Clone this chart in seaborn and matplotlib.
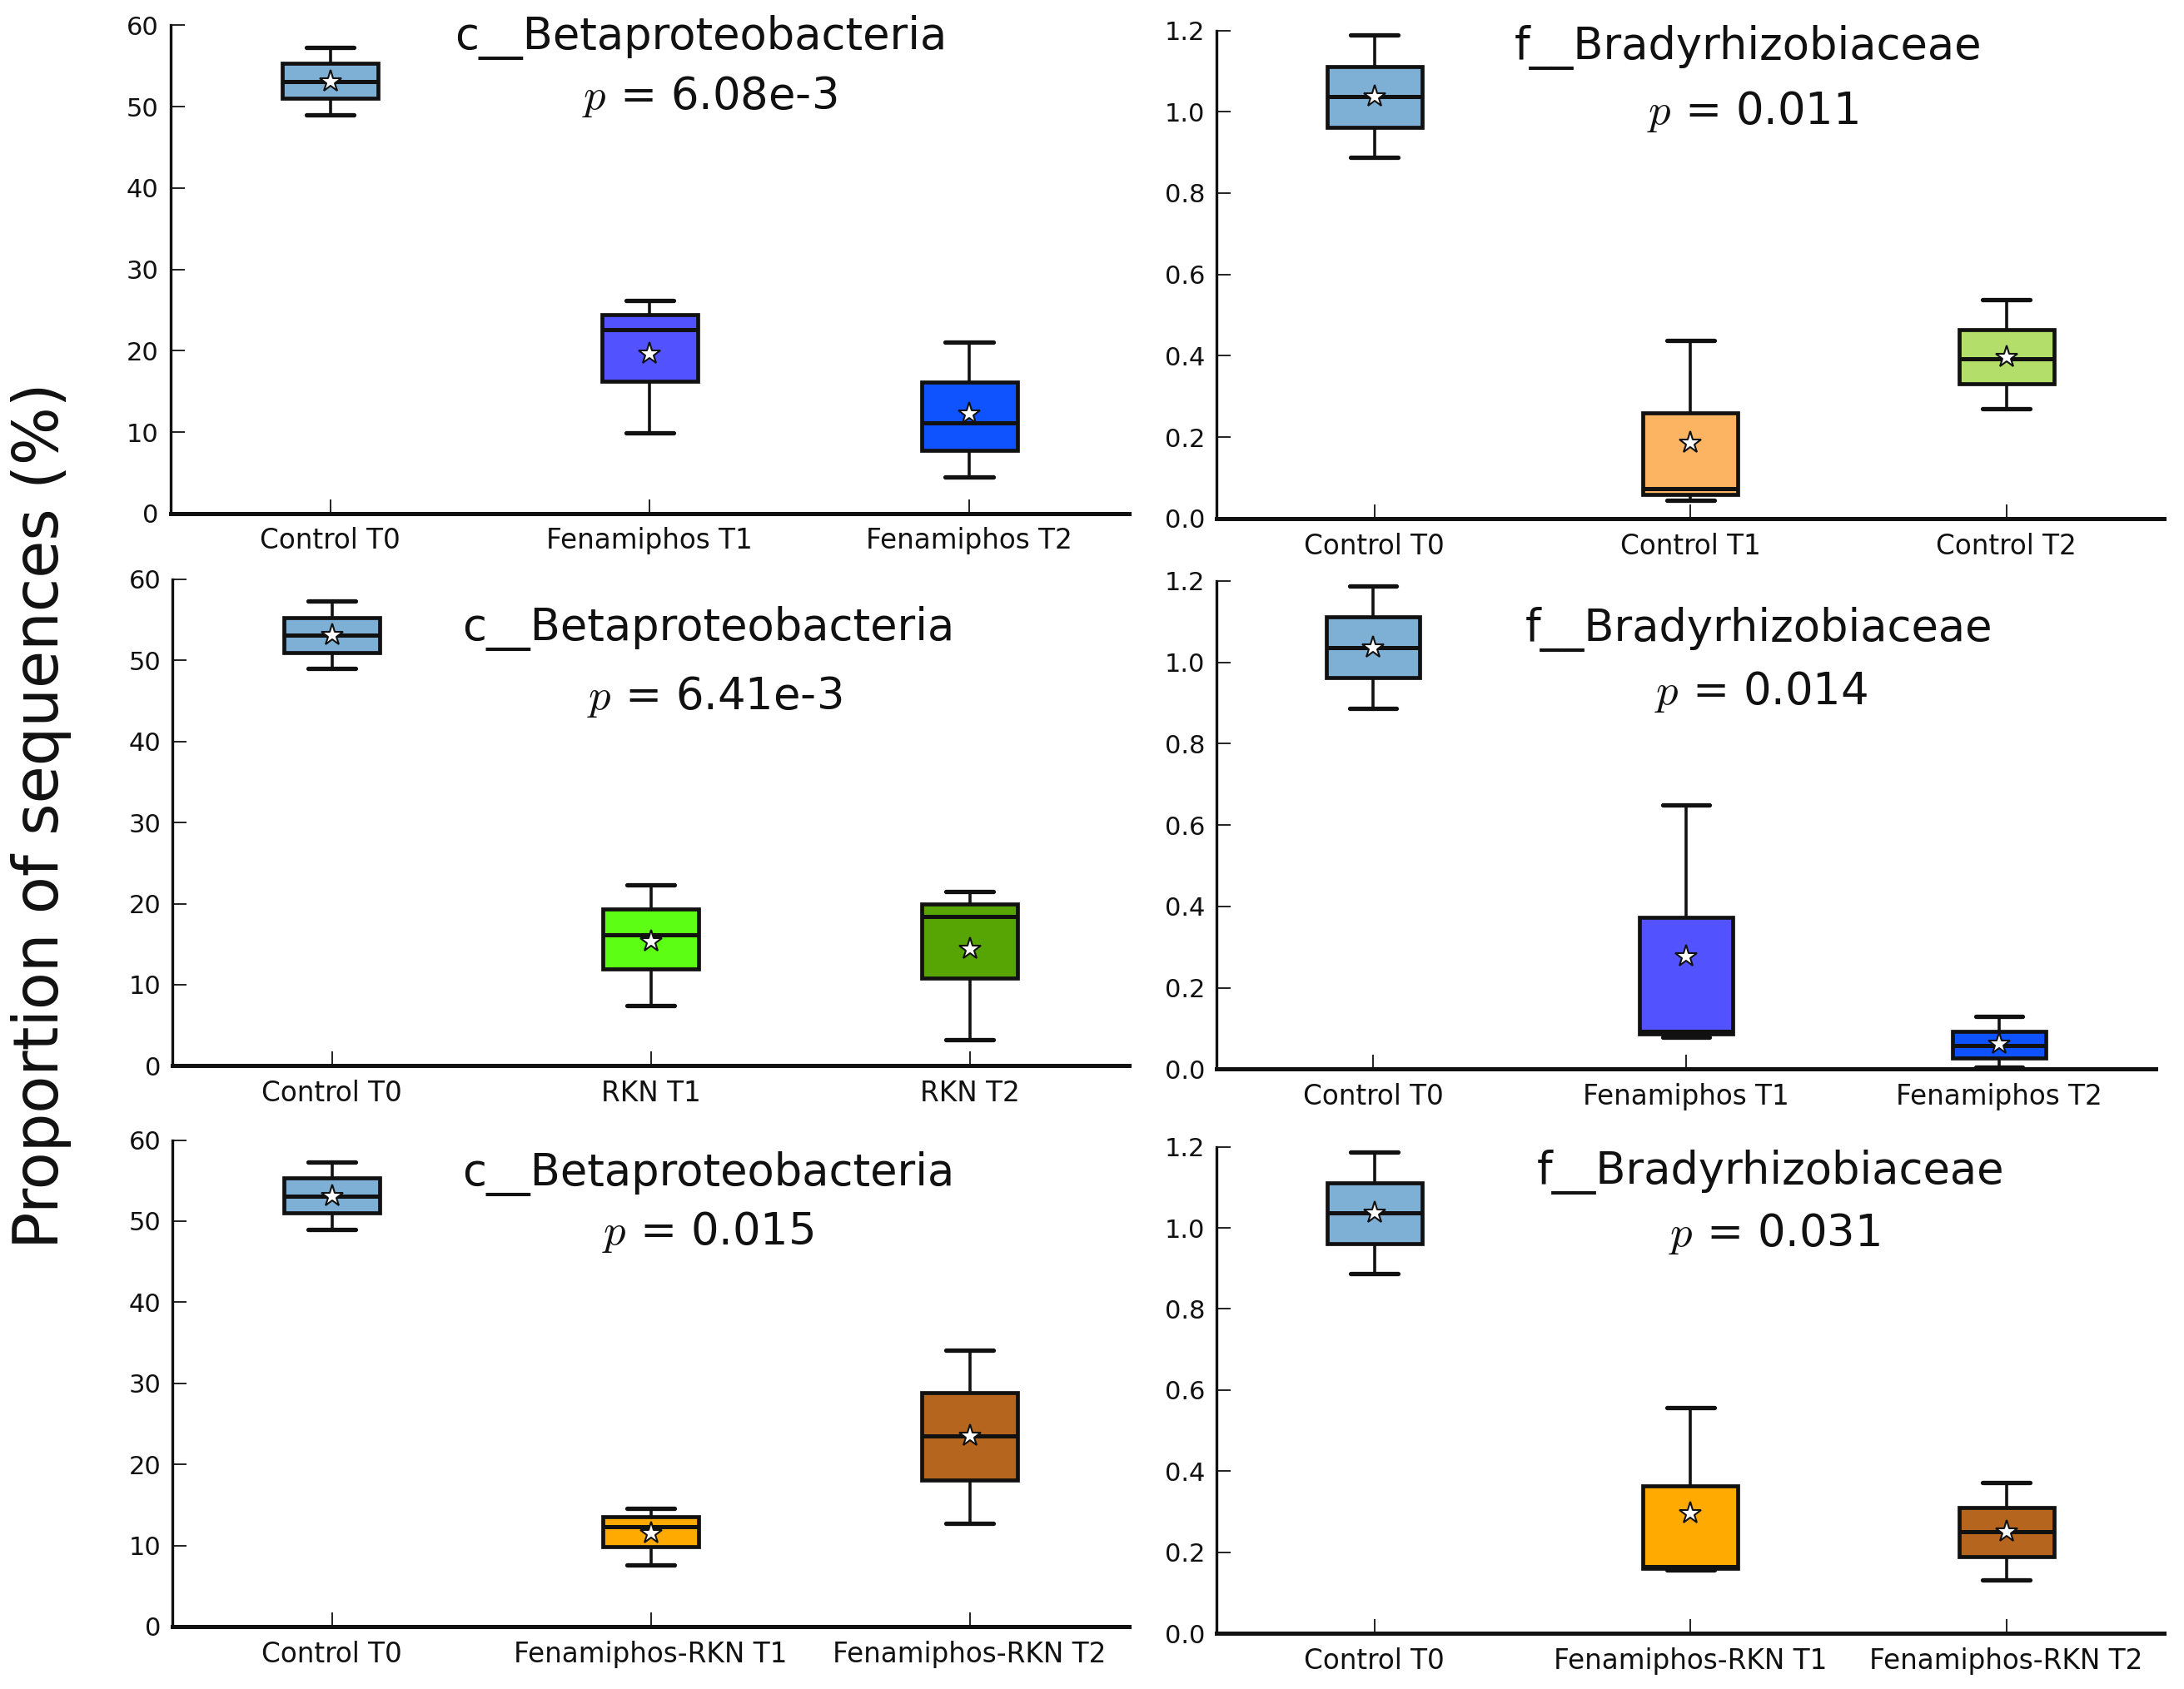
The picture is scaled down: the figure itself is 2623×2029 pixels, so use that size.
import numpy as np
import pandas as pd
import matplotlib
matplotlib.use("Agg")
import matplotlib.pyplot as plt
import matplotlib.ticker as mticker
import seaborn as sns

# ---------------- data ----------------
# Panel A: c__Betaproteobacteria, Control vs Fenamiphos
A_CATS = ["Control T0", "Fenamiphos T1", "Fenamiphos T2"]
A_MIN = [49.0, 9.9, 4.5]
A_Q1 = [51.0, 16.2, 7.8]
A_MED = [53.1, 22.6, 11.1]
A_Q3 = [55.3, 24.4, 16.1]
A_MAX = [57.3, 26.2, 21.1]
A_MEAN = [53.1, 19.6, 12.3]
A_TITLE = "c__Betaproteobacteria"
A_P = "6.08e-3"

# Panel B: f__Bradyrhizobiaceae, Control time series
B_CATS = ["Control T0", "Control T1", "Control T2"]
B_MIN = [0.887, 0.044, 0.269]
B_Q1 = [0.962, 0.060, 0.332]
B_MED = [1.037, 0.074, 0.393]
B_Q3 = [1.112, 0.260, 0.465]
B_MAX = [1.188, 0.438, 0.537]
B_MEAN = [1.037, 0.187, 0.397]
B_TITLE = "f__Bradyrhizobiaceae"
B_P = "0.011"

# Panel C: c__Betaproteobacteria, Control vs RKN
C_CATS = ["Control T0", "RKN T1", "RKN T2"]
C_MIN = [49.0, 7.4, 3.2]
C_Q1 = [51.0, 11.9, 10.8]
C_MED = [53.1, 16.2, 18.4]
C_Q3 = [55.3, 19.3, 19.9]
C_MAX = [57.3, 22.3, 21.5]
C_MEAN = [53.1, 15.3, 14.4]
C_TITLE = "c__Betaproteobacteria"
C_P = "6.41e-3"

# Panel D: f__Bradyrhizobiaceae, Control vs Fenamiphos
D_CATS = ["Control T0", "Fenamiphos T1", "Fenamiphos T2"]
D_MIN = [0.887, 0.078, 0.005]
D_Q1 = [0.962, 0.086, 0.028]
D_MED = [1.037, 0.092, 0.059]
D_Q3 = [1.112, 0.373, 0.093]
D_MAX = [1.188, 0.650, 0.129]
D_MEAN = [1.037, 0.277, 0.062]
D_TITLE = "f__Bradyrhizobiaceae"
D_P = "0.014"

# Panel E: c__Betaproteobacteria, Control vs Fenamiphos-RKN
E_CATS = ["Control T0", "Fenamiphos-RKN T1", "Fenamiphos-RKN T2"]
E_MIN = [49.0, 7.6, 12.7]
E_Q1 = [51.0, 9.8, 18.1]
E_MED = [53.1, 12.3, 23.5]
E_Q3 = [55.3, 13.5, 28.8]
E_MAX = [57.3, 14.6, 34.1]
E_MEAN = [53.1, 11.5, 23.5]
E_TITLE = "c__Betaproteobacteria"
E_P = "0.015"

# Panel F: f__Bradyrhizobiaceae, Control vs Fenamiphos-RKN
F_CATS = ["Control T0", "Fenamiphos-RKN T1", "Fenamiphos-RKN T2"]
F_MIN = [0.887, 0.157, 0.132]
F_Q1 = [0.962, 0.161, 0.190]
F_MED = [1.037, 0.164, 0.251]
F_Q3 = [1.112, 0.363, 0.311]
F_MAX = [1.188, 0.557, 0.371]
F_MEAN = [1.037, 0.295, 0.251]
F_TITLE = "f__Bradyrhizobiaceae"
F_P = "0.031"

GROUP_COLORS = {
    "Control T0": "#7eb0d5",
    "Fenamiphos T1": "#5252ff",
    "Fenamiphos T2": "#0f52ff",
    "Control T1": "#fdb462",
    "Control T2": "#b3de69",
    "RKN T1": "#5cff14",
    "RKN T2": "#56a505",
    "Fenamiphos-RKN T1": "#ffaa00",
    "Fenamiphos-RKN T2": "#b5651d",
}

Y_LABEL = "Proportion of sequences (%)"

# ---------------- style ----------------
sns.set_theme(style="ticks")
plt.rcParams["font.family"] = ["DejaVu Sans"]
plt.rcParams["mathtext.fontset"] = "cm"

fig = plt.figure(figsize=(26.23, 20.29), dpi=100)

panels = [
    dict(cats=A_CATS, mn=A_MIN, q1=A_Q1, md=A_MED, q3=A_Q3, mx=A_MAX, mean=A_MEAN,
         title=A_TITLE, p=A_P, pos=(0.078, 0.696, 0.439, 0.289), ylim=(0, 60),
         step=10, fmt="%d", tx=(0.553, 0.951), px=(0.562, 0.829)),
    dict(cats=B_CATS, mn=B_MIN, q1=B_Q1, md=B_MED, q3=B_Q3, mx=B_MAX, mean=B_MEAN,
         title=B_TITLE, p=B_P, pos=(0.557, 0.693, 0.434, 0.289), ylim=(0, 1.2),
         step=0.2, fmt="%.1f", tx=(0.561, 0.941), px=(0.566, 0.808)),
    dict(cats=C_CATS, mn=C_MIN, q1=C_Q1, md=C_MED, q3=C_Q3, mx=C_MAX, mean=C_MEAN,
         title=C_TITLE, p=C_P, pos=(0.079, 0.369, 0.438, 0.288), ylim=(0, 60),
         step=10, fmt="%d", tx=(0.560, 0.875), px=(0.567, 0.733)),
    dict(cats=D_CATS, mn=D_MIN, q1=D_Q1, md=D_MED, q3=D_Q3, mx=D_MAX, mean=D_MEAN,
         title=D_TITLE, p=D_P, pos=(0.557, 0.367, 0.430, 0.289), ylim=(0, 1.2),
         step=0.2, fmt="%.1f", tx=(0.578, 0.878), px=(0.580, 0.748)),
    dict(cats=E_CATS, mn=E_MIN, q1=E_Q1, md=E_MED, q3=E_Q3, mx=E_MAX, mean=E_MEAN,
         title=E_TITLE, p=E_P, pos=(0.079, 0.037, 0.438, 0.288), ylim=(0, 60),
         step=10, fmt="%d", tx=(0.560, 0.907), px=(0.560, 0.786)),
    dict(cats=F_CATS, mn=F_MIN, q1=F_Q1, md=F_MED, q3=F_Q3, mx=F_MAX, mean=F_MEAN,
         title=F_TITLE, p=F_P, pos=(0.557, 0.033, 0.434, 0.288), ylim=(0, 1.2),
         step=0.2, fmt="%.1f", tx=(0.585, 0.925), px=(0.589, 0.795)),
]

for pnl in panels:
    ax = fig.add_axes(pnl["pos"])
    # five-number summaries -> values per group (quartiles reproduce exactly)
    rows = []
    for i, c in enumerate(pnl["cats"]):
        for v in (pnl["mn"][i], pnl["q1"][i], pnl["md"][i], pnl["q3"][i], pnl["mx"][i]):
            rows.append((c, v))
    df = pd.DataFrame(rows, columns=["group", "value"])
    palette = [GROUP_COLORS[c] for c in pnl["cats"]]

    sns.boxplot(data=df, x="group", y="value", hue="group", order=pnl["cats"],
                hue_order=pnl["cats"], palette=palette, saturation=1, legend=False,
                width=0.3, whis=(0, 100), linecolor="#111111", linewidth=3.4,
                whiskerprops=dict(linewidth=2.6), capprops=dict(linewidth=3.8),
                medianprops=dict(linewidth=3.6), showfliers=False, ax=ax)

    sns.pointplot(x=pnl["cats"], y=pnl["mean"], order=pnl["cats"], linestyle="none",
                  marker="*", markersize=20, color="black", markerfacecolor="white",
                  markeredgecolor="#111111", markeredgewidth=1.5, errorbar=None,
                  zorder=10, ax=ax)

    ax.set_xlim(-0.5, 2.5)
    ax.set_ylim(*pnl["ylim"])
    ax.yaxis.set_major_locator(mticker.MultipleLocator(pnl["step"]))
    ax.yaxis.set_major_formatter(mticker.FormatStrFormatter(pnl["fmt"]))
    ax.set_xlabel("")
    ax.set_ylabel("")
    sns.despine(ax=ax)
    ax.spines["left"].set_linewidth(2.4)
    ax.spines["bottom"].set_linewidth(3.6)
    ax.spines["left"].set_color("#111111")
    ax.spines["bottom"].set_color("#111111")
    ax.tick_params(axis="x", direction="in", length=12, width=1.3, pad=12,
                   labelsize=23.5, colors="#111111")
    ax.tick_params(axis="y", direction="in", length=12, width=1.3, pad=10,
                   labelsize=22, colors="#111111")

    ax.text(pnl["tx"][0], pnl["tx"][1], pnl["title"], transform=ax.transAxes,
            ha="center", va="baseline", fontsize=38, color="#111111")
    ax.text(pnl["px"][0], pnl["px"][1], r"$p$ = " + pnl["p"], transform=ax.transAxes,
            ha="center", va="baseline", fontsize=38, color="#111111")

fig.text(0.019, 0.517, Y_LABEL, rotation=90, ha="center", va="center",
         fontsize=53, color="#111111")

fig.savefig("out.png", dpi=100, facecolor="white")
